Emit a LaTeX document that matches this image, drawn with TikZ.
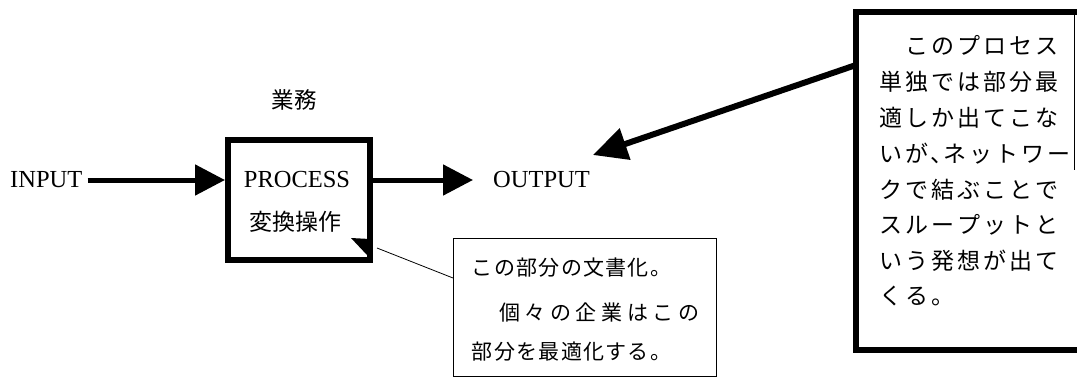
\documentclass[tikz,border=0pt]{standalone}
\usepackage{fontspec}
\setmainfont{Liberation Serif}
\newfontfamily\jp{Noto Sans CJK JP}
\usetikzlibrary{arrows.meta}
\makeatletter
\newcommand\grid[2]{\@tfor\g@c:=#2\do{\makebox[#1]{\g@c}}}
\makeatother
\tikzset{
  lat/.style={font=\fontsize{24.5}{26}\selectfont, inner sep=0pt},
  jpl/.style={font=\jp\fontsize{23}{25}\selectfont, inner sep=0pt, anchor=west},
  jps/.style={font=\jp\fontsize{21}{23}\selectfont, inner sep=0pt, anchor=west},
  bigarrow/.style={line width=5pt, -{Triangle[length=30pt,width=30pt]}},
}
\begin{document}
\begin{tikzpicture}[x=1pt,y=-1pt]
\useasboundingbox (0,0) rectangle (1077,378);
% main flow
\node[lat, anchor=west] (in) at (10,180) {INPUT};
\node[draw, line width=6pt, minimum width=142pt, minimum height=120pt, inner sep=0pt] (pb) at (299,200) {};
\node[lat] (proc) at (297,180) {PROCESS};
\node[font=\jp\fontsize{23}{25}\selectfont, inner sep=0pt] (hen) at (295,222) {変換操作};
\node[font=\jp\fontsize{22.5}{24}\selectfont, inner sep=0pt] (gyo) at (294,100) {業務};
\node[lat, anchor=west] (out) at (493,180) {OUTPUT};
\draw[bigarrow, shorten <=5pt] (in.east) -- (in.east -| pb.west);
\draw[bigarrow, shorten >=20pt] (pb.east |- out.west) -- (out.west);
\fill (351,238) -- (370,239) -- (367,255) -- cycle;
% right box
\node[minimum width=224pt, minimum height=338pt, inner sep=0pt, outer sep=0pt] (rb) at (968,181) {};
\draw[line width=6pt] (rb.north east) -- (rb.north west) -- (rb.south west) -- (rb.south east);
\draw[line width=1pt] ([xshift=-6pt]rb.north east) -- ([xshift=-6pt,yshift=-158pt]rb.north east);
\node[jpl] (r1) at (878,45) {\grid{26pt}{　このプロセス}};
\node[jpl] (r2) at (878,82) {\grid{26pt}{単独では部分最}};
\node[jpl] (r3) at (878,118) {\grid{26pt}{適しか出てこな}};
\node[jpl] (r4) at (878,154) {\grid{26pt}{いが}\makebox[12pt][l]{、}\grid{26pt}{ネットワー}};
\node[jpl] (r5) at (878,190) {\grid{26pt}{クで結ぶことで}};
\node[jpl] (r6) at (878,225) {\grid{26pt}{スループットと}};
\node[jpl] (r7) at (878,261) {\grid{26pt}{いう発想が出て}};
\node[jpl] (r8) at (878,296) {\grid{26pt}{くる。}};
\coordinate (otip) at (593,155);
\draw[line width=6pt, -{Triangle[length=34pt,width=32pt]}] ([yshift=-53pt]rb.north west) -- (otip);
% lower box
\node[draw, line width=1pt, minimum width=263pt, minimum height=138pt, inner sep=0pt, outer sep=0pt] (lb) at (584.5,307) {};
\node[jps] (l1) at (471,268) {\grid{22.3pt}{この部分の文書化。}};
\node[jps] (l2) at (471,312) {\grid{25.6pt}{　個々の企業はこの}};
\node[jps] (l3) at (471,352) {\grid{22.3pt}{部分を最適化する。}};
\coordinate (cend) at (377,248);
\draw[line width=0.8pt] ([yshift=29pt]lb.west) -- (cend);
\end{tikzpicture}
\end{document}
